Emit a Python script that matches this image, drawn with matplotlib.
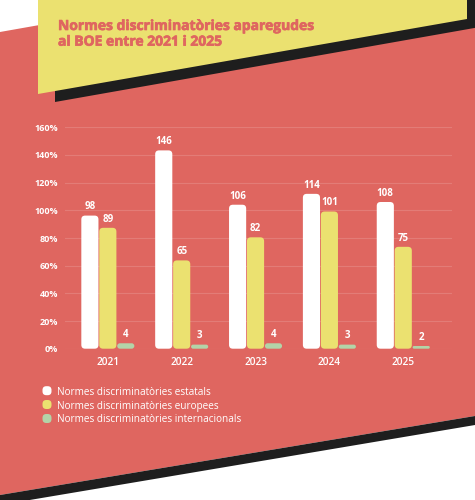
import matplotlib
matplotlib.use("Agg")
import matplotlib.pyplot as plt
from matplotlib.patches import Polygon, FancyBboxPatch
import numpy as np

# ---- data ----
years = ["2021", "2022", "2023", "2024", "2025"]
estatals = [98, 146, 106, 114, 108]
europees = [89, 65, 82, 101, 75]
internacionals = [4, 3, 4, 3, 2]
series_names = ["Normes discriminatòries estatals",
                "Normes discriminatòries europees",
                "Normes discriminatòries internacionals"]
tick_labels = ["0%", "20%", "40%", "60%", "80%", "100%", "120%", "140%", "160%"]
title = "Normes discriminatòries aparegudes\nal BOE entre 2021 i 2025"

# ---- style ----
RED = "#df6660"
YEL = "#ebe170"
GRN = "#b3d4a8"
WHT = "#ffffff"
BLK = "#1e1e1e"
colors = [WHT, YEL, GRN]
FONT = "Open Sans"
plt.rcParams["font.family"] = [FONT, "DejaVu Sans"]

W, H = 475, 500
fig = plt.figure(figsize=(W / 100, H / 100), dpi=100)
fig.patch.set_facecolor("white")


def P(x, y):
    return (x / W, 1 - y / H)


def poly(pts, color, z):
    fig.add_artist(Polygon([P(*p) for p in pts], closed=True, facecolor=color,
                           edgecolor="none", transform=fig.transFigure, zorder=z))


# background shapes
poly([(0, 32), (475, -52), (475, 416), (0, 495)], RED, 0)
poly([(0, 495), (475, 416), (475, 425), (0, 505)], BLK, 0.5)
poly([(55, -5), (480, -5), (480, 27), (55, 102)], BLK, 1)
poly([(38, -5), (467, -5), (467, 19), (38, 94)], YEL, 2)

t = fig.text(*P(58, 19), title, color=RED, fontsize=10.0, fontweight="bold",
             va="top", ha="left", linespacing=1.15, zorder=3)
t.set_path_effects([])
import matplotlib.patheffects as pe
t.set_path_effects([pe.withStroke(linewidth=0.5, foreground=RED)])

# ---- axes ----
left, right = 65, 452
y0px, ytop = 348.7, 127.3
ax = fig.add_axes([left / W, 1 - y0px / H, (right - left) / W, (y0px - ytop) / H])
ax.set_facecolor("none")
ymax = 163.0
ax.set_ylim(0, ymax)
ax.set_xlim(-0.58, len(years) - 1 + 0.66)
yt = np.linspace(0, ymax, len(tick_labels))
ax.set_yticks(yt)
ax.set_yticklabels(tick_labels)
ax.set_xticks(range(len(years)))
ax.set_xticklabels(years)
for s in ax.spines.values():
    s.set_visible(False)
ax.tick_params(axis="both", length=0, colors=WHT)
ax.tick_params(axis="y", pad=5, labelsize=6.5)
ax.tick_params(axis="x", pad=6, labelsize=7.3)
for lab in ax.get_yticklabels():
    lab.set_fontweight("bold")
for lab in ax.get_xticklabels():
    lab.set_fontweight("semibold")
ax.grid(axis="y", color="white", alpha=0.15, lw=0.8)
ax.set_axisbelow(True)

# px scale
xpp = (ax.get_xlim()[1] - ax.get_xlim()[0]) / (right - left)
ypp = ymax / (y0px - ytop)
aspect = ypp / xpp

offs = [-0.243, 0.0, 0.243]
bw = 0.232
for si, vals in enumerate([estatals, europees, internacionals]):
    bars = ax.bar(np.arange(len(years)) + offs[si], vals, width=bw,
                  color=colors[si], alpha=0)
    for b, v in zip(bars, vals):
        x, w, h = b.get_x(), b.get_width(), b.get_height()
        hpx = h / ypp
        rpx = min(3.8, hpx / 2)
        r = rpx * xpp
        p = FancyBboxPatch((x + r, r * aspect), w - 2 * r, h - 2 * r * aspect,
                           boxstyle=f"round,pad={r},rounding_size={r}",
                           mutation_aspect=aspect, facecolor=colors[si],
                           edgecolor="none", zorder=3)
        ax.add_patch(p)
        ax.annotate(str(v), (x + w / 2, h), xytext=(0, 2.3),
                    textcoords="offset points", ha="center", va="bottom",
                    color=WHT, fontsize=7.0, fontweight="bold", zorder=4)

# ---- legend ----
ly = [390.7, 404.5, 418.5]
for i, name in enumerate(series_names):
    cx, cy = 47, ly[i]
    s = 9.0
    fig.add_artist(FancyBboxPatch(P(cx - s / 2 + 2.5, cy + s / 2 - 2.5),
                                  (s - 5) / W, (s - 5) / H,
                                  boxstyle=f"round,pad={2.5 / W},rounding_size={3.8 / W}",
                                  mutation_aspect=W / H,
                                  transform=fig.transFigure, facecolor=colors[i],
                                  edgecolor="none", zorder=5))
    fig.text(*P(57, cy), name, color=WHT, fontsize=7.2, va="center_baseline",
             ha="left", zorder=5)

fig.savefig("out.png", dpi=100, facecolor=fig.get_facecolor())
